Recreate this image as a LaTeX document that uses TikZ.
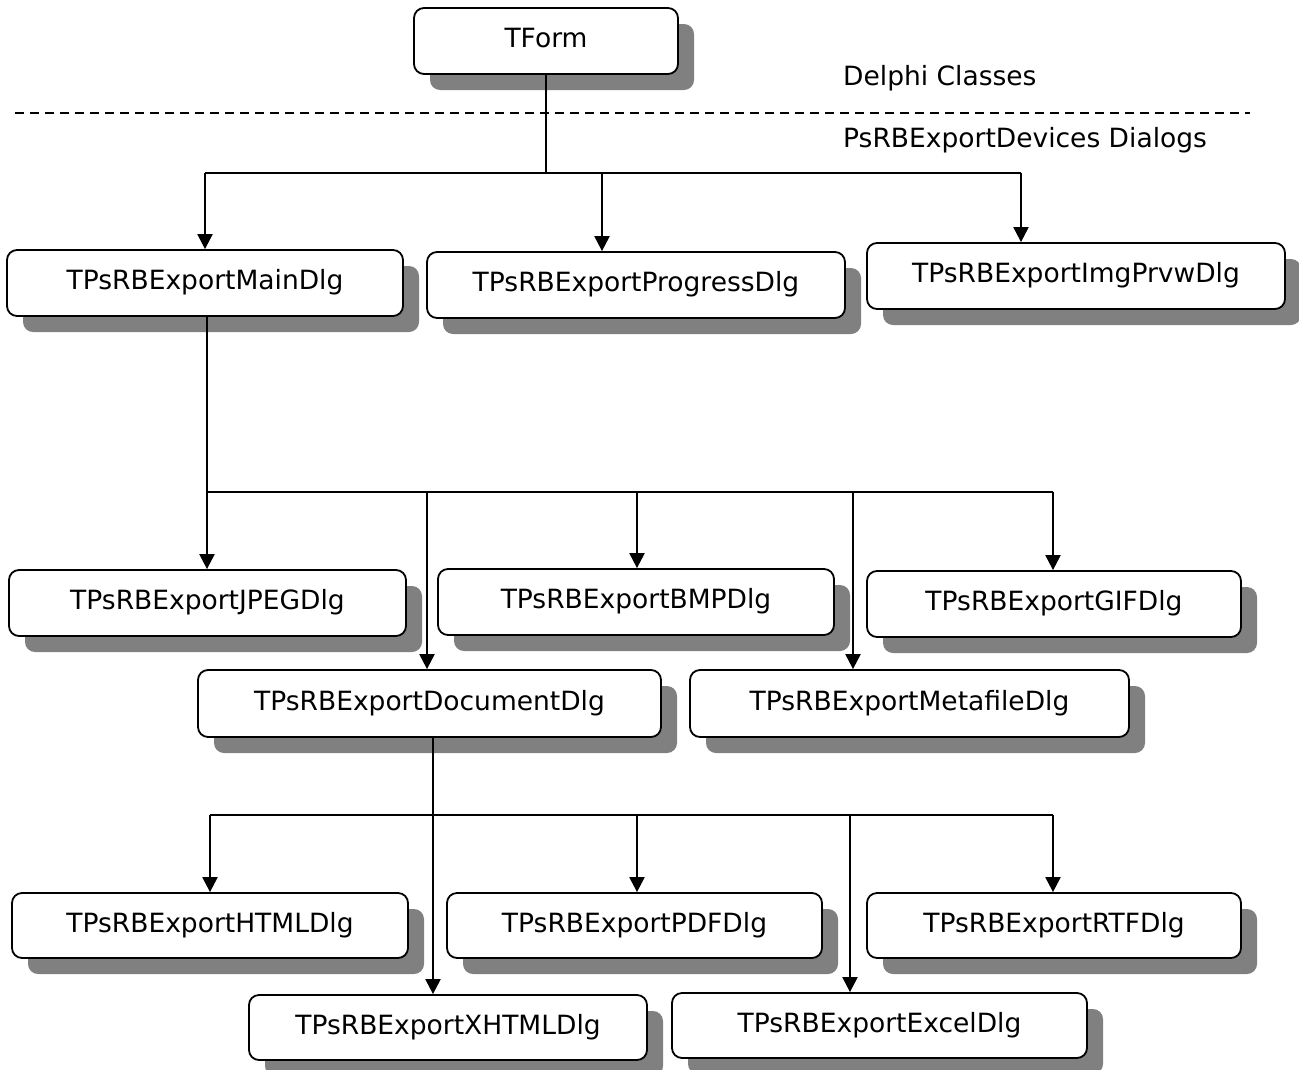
\documentclass[tikz,border=0pt]{standalone}
\usepackage{fontspec}
\setmainfont{DejaVu Sans}
\usetikzlibrary{arrows.meta,shadows}
\definecolor{shadowgray}{RGB}{128,128,128}
\tikzset{
  cls/.style={draw=black, line width=1.8pt, rounded corners=10pt, fill=white,
    minimum height=66pt, inner sep=0pt, font=\fontsize{26.5pt}{30pt}\selectfont,
    text height=19pt, text depth=6pt,
    drop shadow={shadow xshift=16pt, shadow yshift=-16pt, fill=shadowgray, opacity=1, draw=none}},
  lbl/.style={anchor=west, inner sep=0pt, font=\fontsize{26.5pt}{30pt}\selectfont},
  arr/.style={line width=2.2pt, -{Triangle[length=15pt,width=15pt]}},
  bus/.style={line width=2pt},
}
\begin{document}
\begin{tikzpicture}[x=1pt,y=-1pt]
\useasboundingbox (0,0) rectangle (1299,1069);
% labels and separator
\node[lbl] (dc) at (843,78) {Delphi Classes};
\node[lbl] (pd) at (843,140) {PsRBExportDevices Dialogs};
\coordinate (dl) at (15,113);
\coordinate (dr) at (1250,113);
\draw[line width=1.5pt, dash pattern=on 9pt off 6pt] (dl) -- (dr);
% nodes
\node[cls, minimum width=264pt] (tform) at (546,41) {TForm};
\node[cls, minimum width=396pt] (main) at (205,283) {TPsRBExportMainDlg};
\node[cls, minimum width=418pt] (prog) at (636,285) {TPsRBExportProgressDlg};
\node[cls, minimum width=418pt] (img) at (1076,276) {TPsRBExportImgPrvwDlg};
\node[cls, minimum width=397pt] (jpeg) at (207.5,603) {TPsRBExportJPEGDlg};
\node[cls, minimum width=396pt] (bmp) at (636,602) {TPsRBExportBMPDlg};
\node[cls, minimum width=374pt] (gif) at (1054,604) {TPsRBExportGIFDlg};
\node[cls, minimum width=463pt, minimum height=67pt] (doc) at (429.5,703.5) {TPsRBExportDocumentDlg};
\node[cls, minimum width=439pt, minimum height=67pt] (meta) at (909.5,703.5) {TPsRBExportMetafileDlg};
\node[cls, minimum width=396pt, minimum height=65pt] (html) at (210,925.5) {TPsRBExportHTMLDlg};
\node[cls, minimum width=375pt, minimum height=65pt] (pdf) at (634.5,925.5) {TPsRBExportPDFDlg};
\node[cls, minimum width=374pt, minimum height=65pt] (rtf) at (1054,925.5) {TPsRBExportRTFDlg};
\node[cls, minimum width=398pt, minimum height=65pt] (xhtml) at (448,1027.5) {TPsRBExportXHTMLDlg};
\node[cls, minimum width=415pt, minimum height=65pt] (excel) at (879.5,1025.5) {TPsRBExportExcelDlg};
% level 1 connectors
\coordinate (a1) at (205,173);
\coordinate (a2) at (602,173);
\coordinate (a3) at (1021,173);
\draw[bus] (tform.south) -- (tform.south |- a1);
\draw[bus] (a1) -- (a3);
\draw[arr] (a1) -- (a1 |- main.north);
\draw[arr] (a2) -- (a2 |- prog.north);
\draw[arr] (a3) -- (a3 |- img.north);
% level 2 connectors
\coordinate (b1) at (207,492);
\coordinate (b2) at (427,492);
\coordinate (b3) at (637,492);
\coordinate (b4) at (853,492);
\coordinate (b5) at (1053,492);
\draw[bus] (b1 |- main.south) -- (b1);
\draw[bus] (b1) -- (b5);
\draw[arr] (b1) -- (b1 |- jpeg.north);
\draw[arr] (b2) -- (b2 |- doc.north);
\draw[arr] (b3) -- (b3 |- bmp.north);
\draw[arr] (b4) -- (b4 |- meta.north);
\draw[arr] (b5) -- (b5 |- gif.north);
% level 3 connectors
\coordinate (c1) at (210,815);
\coordinate (c2) at (433,815);
\coordinate (c3) at (637,815);
\coordinate (c4) at (850,815);
\coordinate (c5) at (1053,815);
\draw[bus] (c2 |- doc.south) -- (c2);
\draw[bus] (c1) -- (c5);
\draw[arr] (c1) -- (c1 |- html.north);
\draw[arr] (c2) -- (c2 |- xhtml.north);
\draw[arr] (c3) -- (c3 |- pdf.north);
\draw[arr] (c4) -- (c4 |- excel.north);
\draw[arr] (c5) -- (c5 |- rtf.north);
\end{tikzpicture}
\end{document}
